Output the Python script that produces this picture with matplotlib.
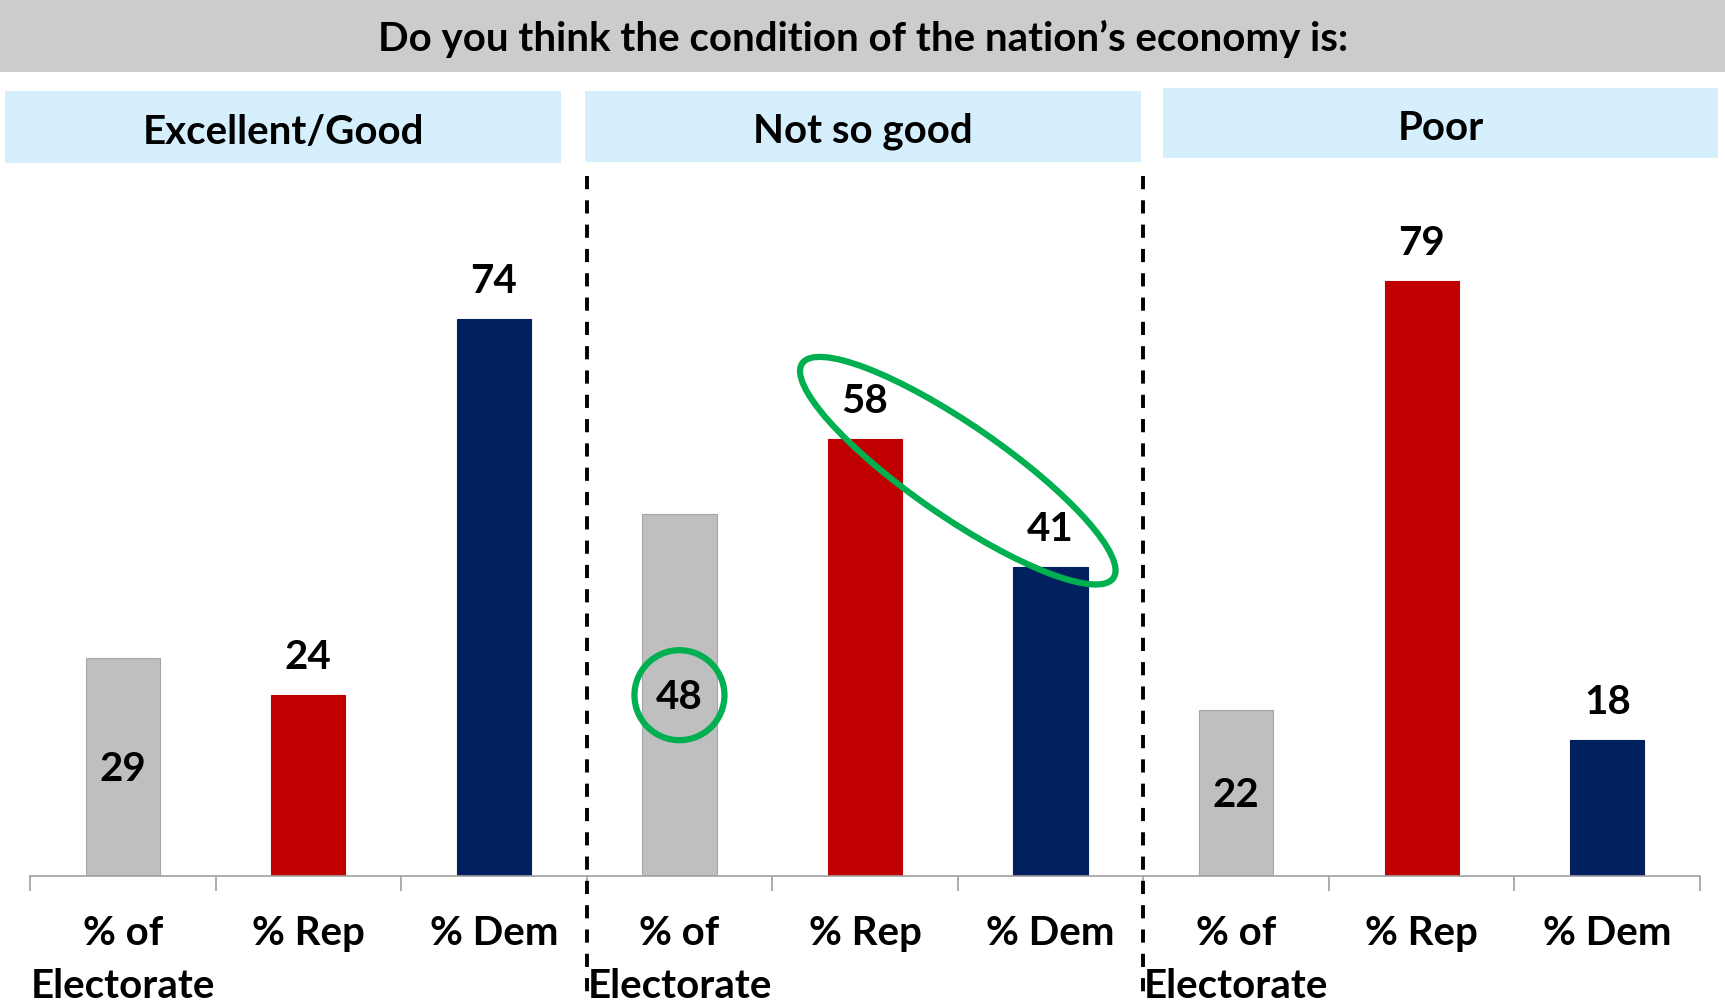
import matplotlib
matplotlib.use("agg")
import matplotlib.pyplot as plt
import matplotlib.transforms as mtransforms
from matplotlib import font_manager
from matplotlib.patches import Rectangle, Ellipse, Circle

# data
groups = ['Excellent/Good', 'Not so good', 'Poor']
series = ['% of\nElectorate', '% Rep', '% Dem']
electorate = [29, 48, 22]
rep = [24, 58, 79]
dem = [74, 41, 18]
title = 'Do you think the condition of the nation\u2019s economy is:'

colors = ['#BFBFBF', '#C00000', '#002060']

names = {f.name for f in font_manager.fontManager.ttflist}
family = 'Liberation Sans Narrow' if 'Liberation Sans Narrow' in names else 'Lato'
plt.rcParams['font.family'] = [family, 'DejaVu Sans']
plt.rcParams['font.weight'] = 'bold'
plt.rcParams['lines.scale_dashes'] = False
FS = 29

W, H = 1725, 1002
fig = plt.figure(figsize=(W / 100, H / 100), dpi=100)

# top grey banner and light blue group headers (pixel boxes -> figure fraction)
def fig_box(x0, y0, x1, y1, color):
    fig.patches.append(Rectangle((x0 / W, 1 - y1 / H), (x1 - x0) / W, (y1 - y0) / H,
                                 transform=fig.transFigure, facecolor=color,
                                 edgecolor='none', zorder=0))

fig_box(0, 0, W, 72, '#CCCCCC')
fig.text(863 / W, 1 - 39 / H, title, ha='center', va='center', fontsize=FS, fontweight='bold')

header_boxes = [(5, 91, 561, 163), (585, 91, 1141, 162), (1163, 88, 1718, 158)]
for name, (x0, y0, x1, y1) in zip(groups, header_boxes):
    fig_box(x0, y0, x1, y1, '#D5EFFC')
    fig.text((x0 + x1) / 2 / W, 1 - ((y0 + y1) / 2 + 5) / H, name,
             ha='center', va='center', fontsize=FS, fontweight='bold')

ax = fig.add_axes([30 / W, (H - 876) / H, 1670 / W, 678 / H])
ax.set_xlim(-0.5, 8.5)
ax.set_ylim(0, 90)

values, bar_colors, labels = [], [], []
for g in range(len(groups)):
    for s, vals in enumerate([electorate, rep, dem]):
        values.append(vals[g])
        bar_colors.append(colors[s])
        labels.append(series[s])

xs = list(range(len(values)))
ax.bar(xs, values, width=0.4, color=bar_colors,
       edgecolor=['#A6A6A6' if c == colors[0] else c for c in bar_colors],
       linewidth=0.8, zorder=2)

for x, v, c in zip(xs, values, bar_colors):
    if c == colors[0]:
        ax.annotate(str(v), (x, v / 2), xytext=(0, -2), textcoords='offset points',
                    ha='center', va='center', fontsize=FS, fontweight='bold', zorder=3)
    else:
        ax.annotate(str(v), (x, v), xytext=(0, 27), textcoords='offset points',
                    ha='center', va='center', fontsize=FS, fontweight='bold', zorder=3)

for side in ['top', 'right', 'left']:
    ax.spines[side].set_visible(False)
ax.spines['bottom'].set_color('#A0A0A0')
ax.spines['bottom'].set_linewidth(1.2)
ax.set_yticks([])
ax.set_xticks(xs)
ax.set_xticklabels(labels, fontsize=FS, fontweight='bold', linespacing=1.55)
ax.tick_params(axis='x', which='major', length=0, pad=28)
ax.set_xticks([i - 0.5 for i in range(len(values) + 1)], minor=True)
ax.tick_params(axis='x', which='minor', length=11, width=1.2, color='#A0A0A0')

# dashed group dividers
trans = mtransforms.blended_transform_factory(ax.transData, fig.transFigure)
for xd in [2.5, 5.5]:
    ax.plot([xd, xd], [1 - 176 / H, 1 - 1000 / H], transform=trans, color='black',
            lw=2.8, dashes=(9.5, 8), clip_on=False, zorder=4)

# green highlights
to_in = fig.dpi_scale_trans
def data_to_in(x, y):
    px, py = ax.transData.transform((x, y))
    return px / fig.dpi, py / fig.dpi

cx, cy = data_to_in(3, electorate[1] / 2)
fig.patches.append(Circle((cx, cy), 0.45, transform=to_in, fill=False,
                          edgecolor='#00B050', lw=4.5, zorder=5))
ex, ey = data_to_in(4.5, 53.8)
fig.patches.append(Ellipse((ex, ey), 3.78, 0.92, angle=-34.6, transform=to_in, fill=False,
                           edgecolor='#00B050', lw=4.5, zorder=5))

fig.savefig('out.png', dpi=100)
